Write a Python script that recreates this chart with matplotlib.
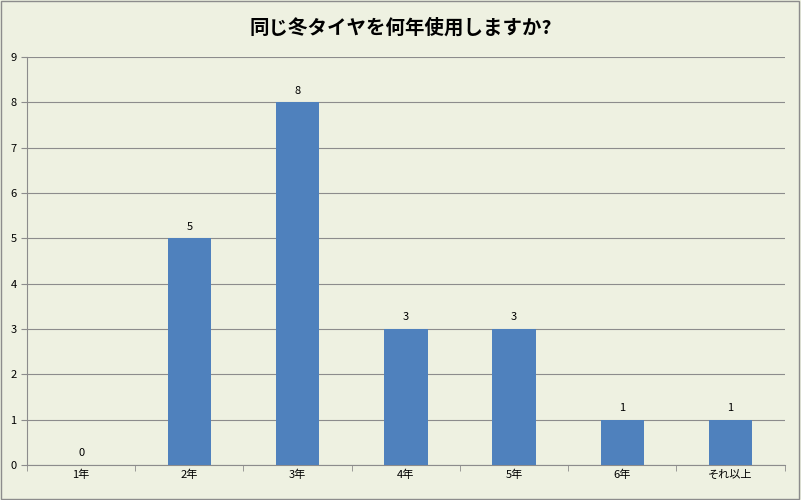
import matplotlib
matplotlib.use("Agg")
import matplotlib.pyplot as plt
from matplotlib.patches import Rectangle

plt.rcParams['font.family'] = ['Noto Sans CJK JP', 'DejaVu Sans']

categories = ["1年", "2年", "3年", "4年", "5年", "6年", "それ以上"]
values = [0, 5, 8, 3, 3, 1, 1]
title = "同じ冬タイヤを何年使用しますか?"

bg = "#EEF1E1"
fig = plt.figure(figsize=(8.01, 5.0), dpi=100, facecolor=bg)
fig.patches.append(Rectangle((0.001, 0.002), 0.997, 0.996, transform=fig.transFigure,
                             fill=False, edgecolor="#8c8c8c", linewidth=1))
ax = fig.add_axes([0.0337, 0.07, 0.946, 0.816], facecolor=bg)
x = range(len(categories))
ax.bar(x, values, width=0.4, color="#4F81BD", zorder=3)
for i, v in enumerate(values):
    ax.text(i, v + 0.15, str(v), ha="center", va="bottom", fontsize=8)
ax.set_xlim(-0.5, len(categories) - 0.5)
ax.set_ylim(0, 9)
ax.set_yticks(range(10))
ax.yaxis.grid(True, color="#8c8c8c", linewidth=0.8, zorder=0)
ax.set_xticks(list(x))
ax.set_xticklabels(categories, fontsize=8)
ax.set_xticks([i + 0.5 for i in range(-1, len(categories))], minor=True)
ax.tick_params(axis="x", which="major", length=0)
ax.tick_params(axis="x", which="minor", length=4, color="#8c8c8c")
ax.tick_params(axis="y", labelsize=8, length=4, color="#8c8c8c")
for s in ["top", "right"]:
    ax.spines[s].set_visible(False)
for s in ["left", "bottom"]:
    ax.spines[s].set_color("#8c8c8c")
fig.text(0.5, 0.945, title, ha="center", va="center", fontsize=14, fontweight="bold")
fig.savefig("out.png", dpi=100, facecolor=bg)
